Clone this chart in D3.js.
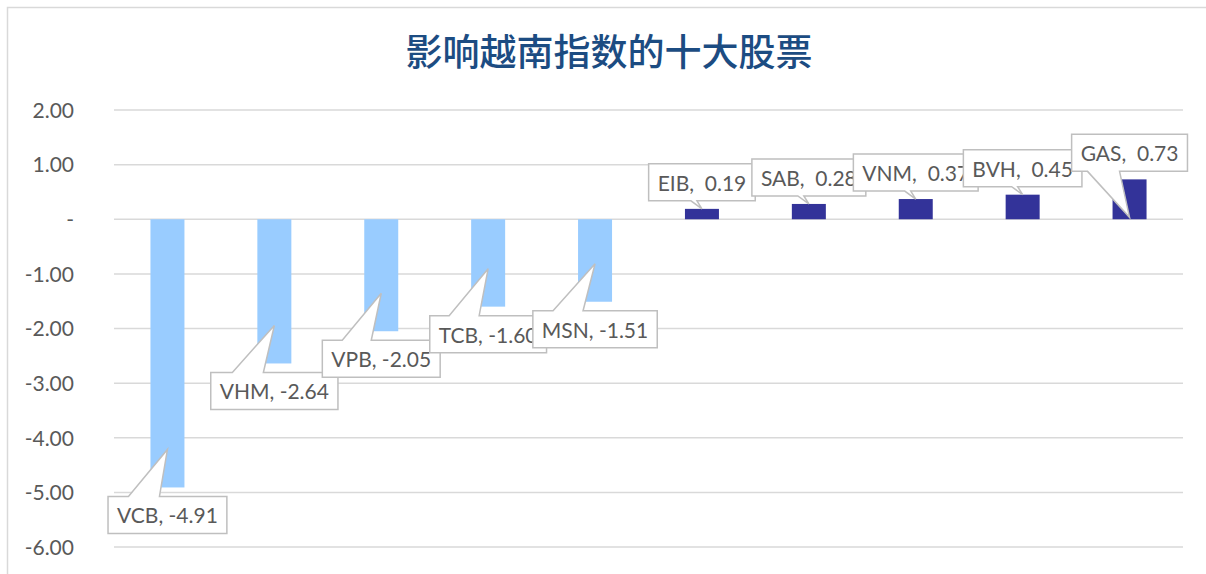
<!DOCTYPE html>
<html>
<head>
<meta charset="utf-8">
<script src="https://cdn.jsdelivr.net/npm/d3@7"></script>
<style>
  html, body { margin: 0; padding: 0; background: #ffffff; }
  svg { display: block; }
</style>
</head>
<body>
<svg id="chart" width="1206" height="574"></svg>
<script>
// ---- data ----
const categories = ["VCB", "VHM", "VPB", "TCB", "MSN", "EIB", "SAB", "VNM", "BVH", "GAS"];
const values = [-4.91, -2.64, -2.05, -1.60, -1.51, 0.19, 0.28, 0.37, 0.45, 0.73];
const tickValues = [2, 1, 0, -1, -2, -3, -4, -5, -6];
const tickLabels = ["2.00", "1.00", "-", "-1.00", "-2.00", "-3.00", "-4.00", "-5.00", "-6.00"];
const title = "影响越南指数的十大股票";

// ---- callout layout (pixel offsets, styling only) ----
const tipInset = [38, 38, 38, 38, 38, 0, 0, 0, 0, 38];       // tip distance from bar end toward zero
const wedgeA = [-39, -42, -39, -39, -42, -11, -11, -11, -11, -42]; // wedge base start, relative to bar centre
const wedgeB = [-8, -11, -10, -9, -12, -5, -5, -5, -5, -10];     // wedge base end, relative to bar centre

const svg = d3.select("#chart");

// chart border
svg.append("rect")
  .attr("x", 7.5).attr("y", 7.5)
  .attr("width", 1230).attr("height", 620)
  .attr("fill", "#fff").attr("stroke", "#d9d9d9").attr("stroke-width", 1.5);

// title
svg.append("text")
  .attr("x", 609).attr("y", 66)
  .attr("text-anchor", "middle")
  .attr("font-family", "'Noto Sans CJK SC', sans-serif")
  .attr("font-size", 37)
  .attr("font-weight", 500)
  .attr("fill", "#1c4c82")
  .text(title);

const x = d3.scaleBand()
  .domain(categories)
  .range([114, 1183])
  .paddingInner(0.682)
  .paddingOuter(0.341);

const y = d3.scaleLinear().domain([-6, 2]).range([547, 110]);

// gridlines
svg.append("g")
  .selectAll("line")
  .data(tickValues)
  .join("line")
  .attr("x1", 114).attr("x2", 1183)
  .attr("y1", d => y(d)).attr("y2", d => y(d))
  .attr("stroke", "#d9d9d9").attr("stroke-width", 1.5);

// y axis labels
const yAxis = d3.axisLeft(y)
  .tickValues(tickValues)
  .tickFormat((d, i) => tickLabels[i])
  .tickSize(0)
  .tickPadding(0);
const gy = svg.append("g").attr("transform", "translate(74,0)").call(yAxis);
gy.select(".domain").remove();
gy.selectAll("text")
  .attr("font-family", "Lato, sans-serif")
  .attr("font-size", 21)
  .attr("fill", "#595959")
  .attr("dy", "0.35em");

// bars
svg.append("g")
  .selectAll("rect")
  .data(values)
  .join("rect")
  .attr("x", (d, i) => x(categories[i]))
  .attr("width", x.bandwidth())
  .attr("y", d => y(Math.max(0, d)))
  .attr("height", d => Math.abs(y(d) - y(0)))
  .attr("fill", d => d < 0 ? "#99ccff" : "#333399");

// callouts
const pad = 9, boxH = 37, gap = 9;
values.forEach((v, i) => {
  const cx = x(categories[i]) + x.bandwidth() / 2;
  const ye = y(v);
  const label = v < 0 ? `${categories[i]}, ${v.toFixed(2)}` : `${categories[i]},  ${v.toFixed(2)}`;
  const g = svg.append("g");
  const path = g.append("path");
  const t = g.append("text")
    .attr("font-family", "Lato, sans-serif")
    .attr("font-size", 21)
    .attr("fill", "#595959")
    .style("white-space", "pre")
    .attr("xml:space", "preserve")
    .text(label);
  const tw = t.node().getComputedTextLength();
  const bw = tw + 2 * pad;
  const L = cx - bw / 2, R = cx + bw / 2;
  let T, B, d;
  if (v < 0) {
    T = ye + gap; B = T + boxH;
    const tipY = ye - tipInset[i];
    d = `M${L},${T}L${cx + wedgeA[i]},${T}L${cx},${tipY}L${cx + wedgeB[i]},${T}L${R},${T}L${R},${B}L${L},${B}Z`;
  } else {
    B = ye - gap + 1; T = B - boxH;
    const tipY = ye + tipInset[i];
    d = `M${L},${T}L${R},${T}L${R},${B}L${cx + wedgeB[i]},${B}L${cx},${tipY}L${cx + wedgeA[i]},${B}L${L},${B}Z`;
  }
  path.attr("d", d).attr("fill", "#fff").attr("stroke", "#bfbfbf").attr("stroke-width", 1.5);
  t.attr("x", L + pad).attr("y", T + 27);
});
</script>
</body>
</html>
